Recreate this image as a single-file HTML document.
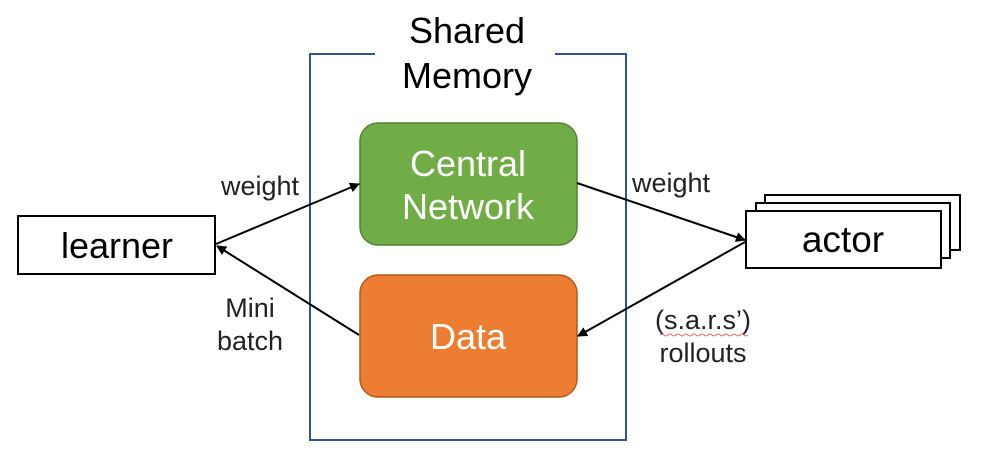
<!DOCTYPE html>
<html><head><meta charset="utf-8"><style>
html,body{margin:0;padding:0;background:#fff;width:1000px;height:464px;overflow:hidden}
svg{display:block}
text{font-family:"Liberation Sans",sans-serif;}
</style></head><body>
<svg width="1000" height="464" viewBox="0 0 1000 464">
<defs>
<marker id="a" markerWidth="10" markerHeight="10" refX="9" refY="5" orient="auto" markerUnits="userSpaceOnUse">
<path d="M0,0 L10,5 L0,10 z" fill="#000"/>
</marker>
</defs>
<path d="M375,54 L310,54 L310,440 L626,440 L626,54 L555,54" fill="none" stroke="#2F5597" stroke-width="2"/>
<text x="467" y="43" font-size="36" text-anchor="middle" fill="#000">Shared</text>
<text x="467" y="88" font-size="36" text-anchor="middle" fill="#000">Memory</text>
<rect x="360" y="123" width="217" height="122" rx="18" fill="#70AD47" stroke="#548235" stroke-width="1.5"/>
<text x="468" y="176" font-size="36" text-anchor="middle" fill="#fff">Central</text>
<text x="468" y="219" font-size="36" text-anchor="middle" fill="#fff">Network</text>
<rect x="360" y="275" width="217" height="122" rx="18" fill="#ED7D31" stroke="#AE5A21" stroke-width="1.5"/>
<text x="468" y="349" font-size="36" text-anchor="middle" fill="#fff">Data</text>
<rect x="18" y="216" width="197" height="58" fill="#fff" stroke="#000" stroke-width="2"/>
<text x="117" y="258" font-size="36" text-anchor="middle" fill="#000">learner</text>
<rect x="765" y="195" width="195" height="55" fill="#fff" stroke="#000" stroke-width="2"/>
<rect x="756" y="203" width="194" height="55" fill="#fff" stroke="#000" stroke-width="2"/>
<rect x="746" y="211" width="195" height="57" fill="#fff" stroke="#000" stroke-width="2"/>
<text x="843" y="252" font-size="37" text-anchor="middle" fill="#000">actor</text>
<line x1="216" y1="244" x2="359" y2="184" stroke="#000" stroke-width="2" marker-end="url(#a)"/>
<line x1="359" y1="335" x2="217" y2="246" stroke="#000" stroke-width="2" marker-end="url(#a)"/>
<line x1="577" y1="183" x2="745" y2="240" stroke="#000" stroke-width="2" marker-end="url(#a)"/>
<line x1="745" y1="242" x2="578" y2="336" stroke="#000" stroke-width="2" marker-end="url(#a)"/>
<g font-size="27" fill="#222" text-anchor="middle">
<text x="260" y="195">weight</text>
<text x="671" y="192">weight</text>
<text x="250" y="317">Mini</text>
<text x="250" y="350">batch</text>
<text x="703" y="329">(s.a.r.s’)</text>
<text x="703" y="362">rollouts</text>
</g>
<path d="M660,335 q2,-2 4,0 t4,0 t4,0 t4,0 t4,0 t4,0 t4,0 t4,0 t4,0 t4,0 t4,0 t4,0 t4,0 t4,0 t4,0 t4,0 t4,0 t4,0 t4,0 t4,0 t4,0 t4,0" fill="none" stroke="#e04040" stroke-width="0.8"/>
</svg>
</body></html>
